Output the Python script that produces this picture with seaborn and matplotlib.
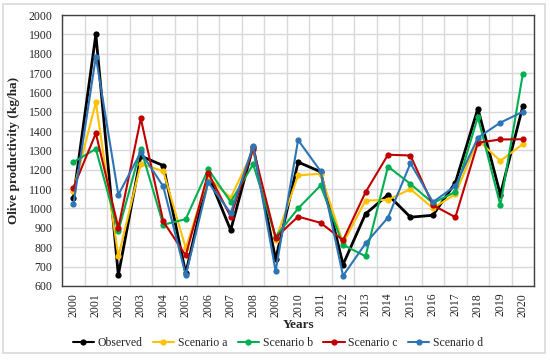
import seaborn as sns
import matplotlib.pyplot as plt
import matplotlib.patches as mpatches
import pandas as pd
import numpy as np

# data
years = [str(y) for y in range(2000, 2021)]
observed = [1053, 1900, 655, 1271, 1222, 665, 1172, 888, 1320, 737, 1240, 1190, 710, 972, 1071, 955, 965, 1134, 1517, 1072, 1528]
scenario_a = [1093, 1549, 752, 1231, 1193, 795, 1160, 1055, 1300, 838, 1171, 1180, 820, 1041, 1045, 1100, 1002, 1074, 1355, 1246, 1333]
scenario_b = [1240, 1308, 883, 1310, 916, 945, 1203, 1034, 1229, 855, 1000, 1119, 812, 753, 1217, 1127, 1028, 1086, 1473, 1017, 1695]
scenario_c = [1107, 1389, 900, 1466, 933, 757, 1184, 958, 1310, 849, 958, 926, 836, 1084, 1278, 1274, 1017, 955, 1340, 1357, 1358]
scenario_d = [1021, 1785, 1071, 1291, 1114, 655, 1135, 976, 1323, 676, 1354, 1193, 652, 819, 953, 1234, 1033, 1117, 1366, 1444, 1500]

names = ["Observed", "Scenario a", "Scenario b", "Scenario c", "Scenario d"]
colors = ["#000000", "#FFC000", "#00B050", "#C00000", "#2E75B6"]

df = pd.DataFrame({
    "pos": list(range(len(years))) * 5,
    "value": observed + scenario_a + scenario_b + scenario_c + scenario_d,
    "series": sum([[n] * len(years) for n in names], []),
})

sns.set_style("white")
plt.rcParams["font.family"] = ["Liberation Serif", "DejaVu Serif"]

fig = plt.figure(figsize=(5.5, 3.6), dpi=100)
ax = fig.add_axes([0.113, 0.206, 0.858, 0.752])

sns.lineplot(data=df, x="pos", y="value", hue="series", palette=colors,
             marker="o", markersize=4.5, markeredgewidth=0, linewidth=1.5,
             ax=ax, legend=True)
# thicker black line for observed
ax.lines[0].set_linewidth(2)

ax.set_xlim(-0.5, len(years) - 0.5)
ax.set_ylim(600, 2000)
ax.set_yticks(np.arange(600, 2001, 100))
ax.set_xticks(range(len(years)))
ax.set_xticklabels(years, rotation=90, fontsize=8.5)
ax.set_xticks(np.arange(-0.5, len(years), 1), minor=True)
ax.tick_params(axis="x", which="major", length=0, pad=5)
ax.tick_params(axis="x", which="minor", length=4, width=1, color="#333333", direction="out")
ax.tick_params(axis="y", labelsize=8.5, length=0, pad=7)
ax.grid(axis="y", color="#d9d9d9", linewidth=1)
ax.grid(axis="x", which="minor", color="#d9d9d9", linewidth=1)
ax.grid(axis="x", which="major", visible=False)
ax.set_axisbelow(True)
for s in ax.spines.values():
    s.set_color("#404040")
    s.set_linewidth(1)

ax.set_xlabel("Years", fontsize=9.5, fontweight="bold", labelpad=2)
ax.set_ylabel("Olive productivity (kg/ha)", fontsize=9.5, fontweight="bold", labelpad=6)

h, l = ax.get_legend_handles_labels()
ax.legend(h, l, loc="center", bbox_to_anchor=(0.505, 0.047), bbox_transform=fig.transFigure,
          ncol=5, frameon=False, fontsize=8.5, handlelength=1.8, columnspacing=0.9, handletextpad=0.3)

fig.patches.append(mpatches.Rectangle((0.006, 0.02), 0.984, 0.968, transform=fig.transFigure,
                                      fill=False, edgecolor="#d9d9d9", linewidth=1.2))

plt.savefig("out.png", dpi=100)
